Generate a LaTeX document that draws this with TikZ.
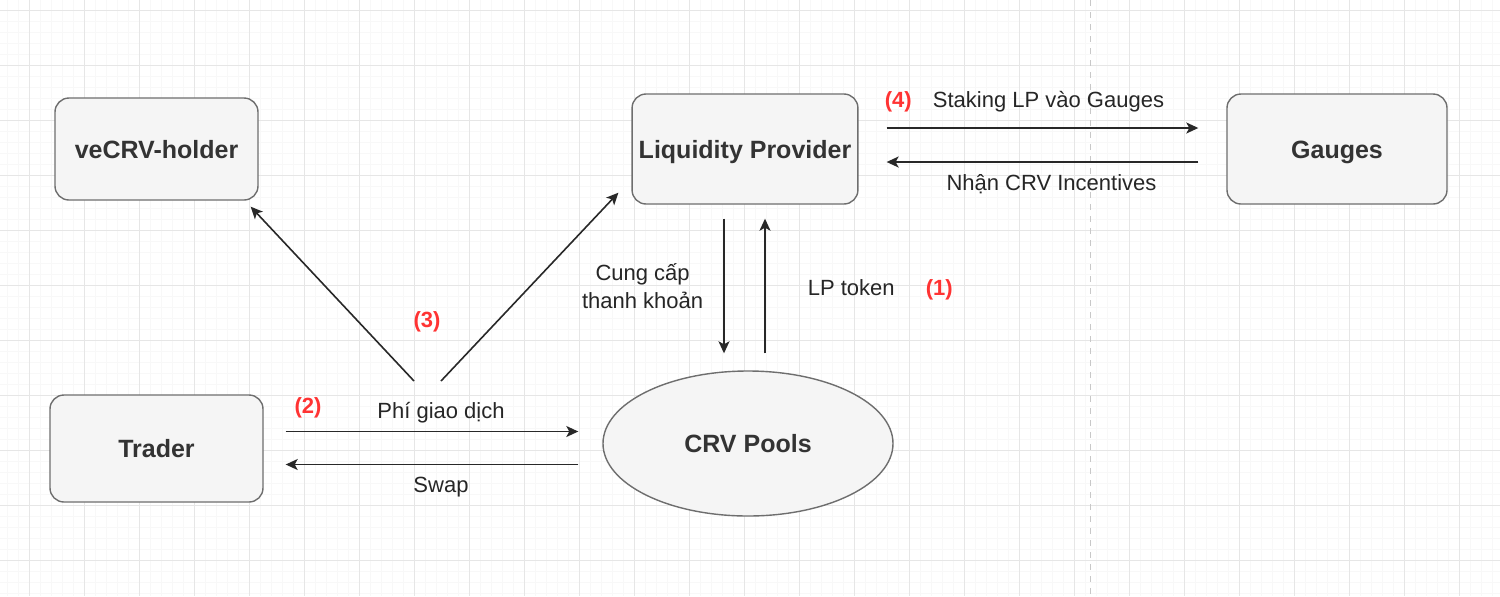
\documentclass[tikz,border=0pt]{standalone}
\usepackage{fontspec}
\setmainfont{Liberation Sans}
\usetikzlibrary{shapes.geometric, arrows.meta, positioning, calc}
\definecolor{boxline}{RGB}{110,110,110}
\definecolor{boxfill}{RGB}{245,245,245}
\definecolor{boxtext}{RGB}{51,51,51}
\definecolor{arrline}{RGB}{40,40,40}
\definecolor{numred}{RGB}{255,51,51}
\definecolor{gridmaj}{RGB}{230,230,230}
\definecolor{gridmin}{RGB}{248,248,248}
\definecolor{pagebrk}{RGB}{200,200,200}

\begin{document}
\begin{tikzpicture}[x=0.5pt, y=-0.5pt,
  box/.style={rectangle, rounded corners=7pt, draw=boxline, line width=0.7pt, fill=boxfill, align=center, text=boxtext, text height=9pt, text depth=0pt, font=\fontsize{12.5}{15}\selectfont\bfseries},
  poolshape/.style={ellipse, draw=boxline, line width=0.7pt, fill=boxfill, inner sep=0pt, text=boxtext, text height=9pt, text depth=0pt, font=\fontsize{12.5}{15}\selectfont\bfseries},
  lbl/.style={inner sep=1pt, text=black!85, align=center, font=\fontsize{11}{14}\selectfont},
  num/.style={inner sep=1pt, text=numred, font=\fontsize{11}{14}\selectfont\bfseries},
  arr/.style={-{Stealth[length=6pt, width=5.5pt, inset=1.5pt]}, line width=0.8pt, draw=arrline}
]
\useasboundingbox (0,0) rectangle (1500,596);
\fill[white] (0,0) rectangle (1500,596);
% Grid
\foreach \gx in {7,18,...,1500} \draw[gridmin, line width=0.4pt] (\gx,0) -- (\gx,596);
\foreach \gy in {10,21,...,596} \draw[gridmin, line width=0.4pt] (0,\gy) -- (1500,\gy);
\foreach \gx in {29,84,...,1500} \draw[gridmaj, line width=0.5pt] (\gx,0) -- (\gx,596);
\foreach \gy in {10,65,...,596} \draw[gridmaj, line width=0.5pt] (0,\gy) -- (1500,\gy);
\draw[pagebrk, dashed, line width=0.5pt] (1090,0) -- (1090,596);
% Nodes
\node[box, minimum width=101.5pt, minimum height=51pt] (vecrv) at (156.5,149) {veCRV-holder};
\node[box, minimum width=110.5pt, minimum height=55pt] (lp) at (745,149) {Liquidity Provider};
\node[box, minimum width=110pt, minimum height=55pt] (gauges) at (1337,149) {Gauges};
\node[box, minimum width=106.5pt, minimum height=53.5pt] (trader) at (156.5,448.5) {Trader};
\node[poolshape, minimum width=145pt, minimum height=72.5pt] (pool) at (748,443.5) {CRV Pools};
\coordinate (feel) at (414,381);
\coordinate (feer) at (441,381);
% Arrows
\draw[arr] ($(lp.east)+(28,-21)$) -- ($(gauges.west)+(-28,-21)$)
  node[lbl, midway, anchor=base, xshift=3pt, yshift=10.5pt] (stake) {Staking LP vào Gauges};
\node[num, base left=8pt of stake] (n4) {(4)};
\draw[arr] ($(gauges.west)+(-28,13)$) -- ($(lp.east)+(28,13)$)
  node[lbl, midway, anchor=base, xshift=4.5pt, yshift=-14pt] (incent) {Nhận CRV Incentives};
\draw[arr] ($(lp.south)+(-21,14)$) -- ($(pool.north)+(-24,-17)$)
  node[lbl, midway, left=9pt] (supply) {Cung cấp\\thanh khoản};
\draw[arr] ($(pool.north)+(17,-17)$) -- ($(lp.south)+(20,14)$)
  node[lbl, midway, anchor=base west, xshift=20pt, yshift=-4.5pt] (lptok) {LP token};
\node[num, base right=13pt of lptok] (n1) {(1)};
\draw[arr] ($(trader.east)+(22,-17)$) -- ($(pool.west)+(-24,-12)$)
  node[lbl, midway, anchor=base, xshift=4.5pt, yshift=6.5pt] (fee) {Phí giao dịch}
  node[num, pos=0, anchor=base west, xshift=3pt, yshift=9pt] (n2) {(2)};
\draw[arr] ($(pool.west)+(-24,21)$) -- ($(trader.east)+(22,16)$)
  node[lbl, midway, anchor=base, xshift=4.5pt, yshift=-14pt] (swap) {Swap};
\draw[arr] (feel) -- ($(vecrv.south east)+(-8,6)$);
\draw[arr] (feer) -- ($(lp.south west)+(-13,-12)$);
\node[num] (n3) at (427,322) {(3)};
\end{tikzpicture}
\end{document}
